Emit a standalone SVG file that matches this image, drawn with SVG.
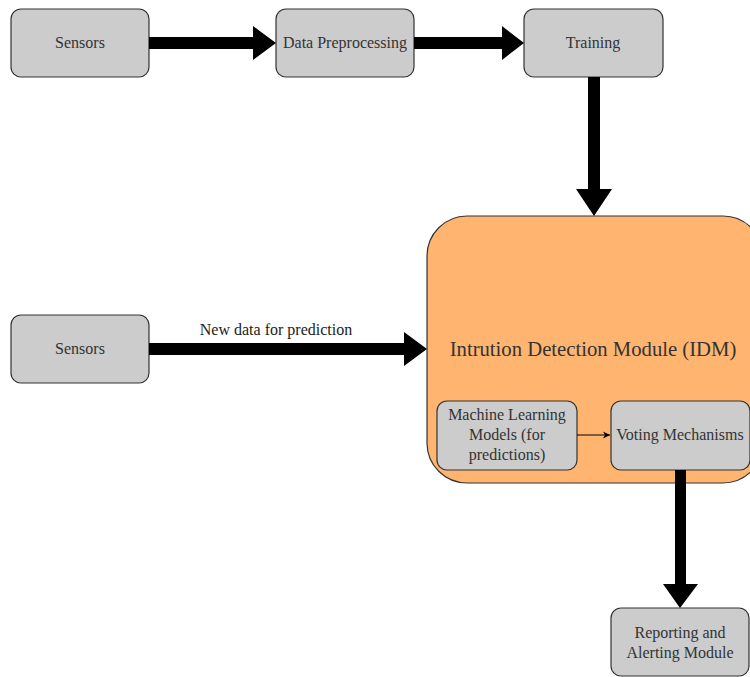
<svg xmlns="http://www.w3.org/2000/svg" width="750" height="677" viewBox="0 0 750 677">
<style>
.box{fill:#cccccc;stroke:#333333;stroke-width:1.2}
.t{font-family:"Liberation Serif","Times New Roman",serif;font-size:16px;fill:#333333;text-anchor:middle}
.arr{fill:#000000}
</style>
<defs>
<marker id="sm" markerWidth="8" markerHeight="8" refX="7" refY="4" orient="auto" markerUnits="userSpaceOnUse">
<path d="M0,0.5 L7,4 L0,7.5 L2,4 Z" fill="#000"/>
</marker>
</defs>
<rect width="750" height="677" fill="#ffffff"/>
<g id="idm">
<rect x="427" y="216" width="336" height="267" rx="40" ry="40" fill="#ffb570" stroke="#333333" stroke-width="1.2"/>
<text x="593" y="356" font-family="Liberation Serif, Times New Roman, serif" font-size="20.7" fill="#333333" text-anchor="middle">Intrution Detection Module (IDM)</text>
</g>
<g id="sensors1">
<rect class="box" x="11" y="9" width="138" height="68" rx="10"/>
<text class="t" x="80" y="48">Sensors</text>
</g>
<g id="preprocessing">
<rect class="box" x="276" y="9" width="138" height="68" rx="10"/>
<text class="t" x="345" y="48">Data Preprocessing</text>
</g>
<g id="training">
<rect class="box" x="524" y="9" width="139" height="68" rx="10"/>
<text class="t" x="593" y="48">Training</text>
</g>
<g id="sensors2">
<rect class="box" x="11" y="315" width="138" height="68" rx="10"/>
<text class="t" x="80" y="354">Sensors</text>
</g>
<g id="ml">
<rect class="box" x="437" y="401" width="140" height="69" rx="10"/>
<text class="t" x="507" y="420">Machine Learning</text>
<text class="t" x="507" y="440">Models (for</text>
<text class="t" x="507" y="460">predictions)</text>
</g>
<g id="voting">
<rect class="box" x="611" y="401" width="139" height="69" rx="10"/>
<text class="t" x="680" y="440">Voting Mechanisms</text>
</g>
<g id="reporting">
<rect class="box" x="611" y="608" width="138" height="68" rx="10"/>
<text class="t" x="680" y="638">Reporting and</text>
<text class="t" x="680" y="658">Alerting Module</text>
</g>
<g id="connectors">
<polygon class="arr" points="149,37 253,37 253,26 276,43 253,60 253,49 149,49"/>
<polygon class="arr" points="414,37 502,37 502,26 524,43 502,60 502,49 414,49"/>
<polygon class="arr" points="588,77 600,77 600,189 612,189 594,216 576,189 588,189"/>
<polygon class="arr" points="149,343 404,343 404,332 427,349 404,366 404,355 149,355"/>
<polygon class="arr" points="675,470 686,470 686,584 698,584 680,608 663,584 675,584"/>
<line x1="577" y1="435" x2="610" y2="435" stroke="#000" stroke-width="1" marker-end="url(#sm)"/>
<text x="276" y="335" font-family="Liberation Serif, Times New Roman, serif" font-size="16" fill="#222222" text-anchor="middle">New data for prediction</text>
</g>
</svg>
